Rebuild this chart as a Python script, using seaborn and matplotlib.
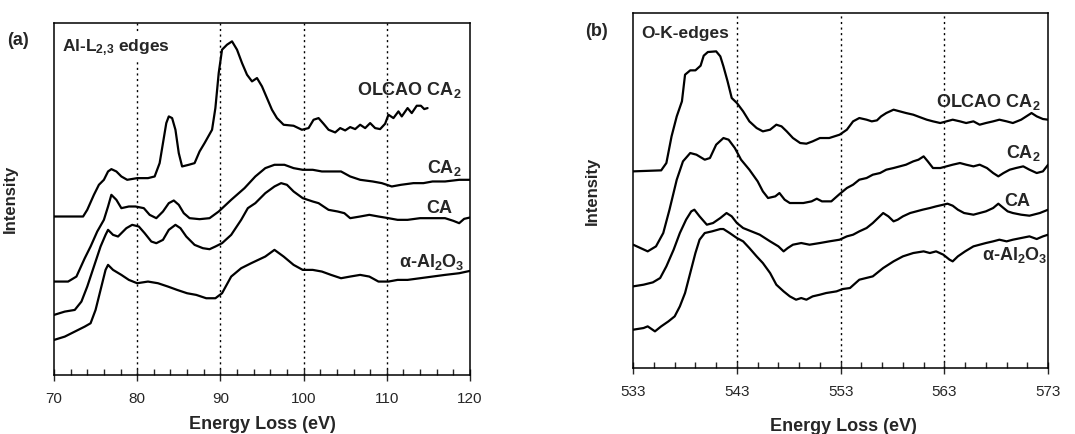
import numpy as np
import pandas as pd
import seaborn as sns
import matplotlib.pyplot as plt

# EELS spectra: Al-L2,3 and O-K edges (curves offset vertically, arbitrary units)

# ---- panel (a): Al-L2,3 edges ----
al_olcao_e = [70.0, 73.5, 74.0, 74.8, 75.4, 76.0, 76.5, 76.9, 77.5, 78.1, 78.8, 80.0, 81.3, 82.1,
              82.7, 83.1, 83.5, 83.8, 84.2, 84.6, 85.0, 85.4, 86.2, 86.9, 87.5, 88.1, 89.0, 89.4,
              89.8, 90.2, 90.8, 91.4, 92.0, 92.6, 93.2, 93.8, 94.4, 95.0, 95.6, 96.2, 96.8, 97.6,
              98.8, 99.8, 100.6, 101.2, 101.8, 102.4, 103.0, 103.8, 104.4, 105.0, 105.6, 106.2,
              106.8, 107.4, 108.0, 108.6, 109.2, 109.8, 110.2, 110.8, 111.4, 111.8, 112.5, 113.0,
              113.6, 114.1, 114.5, 114.9]
al_olcao_i = [475, 475, 495, 540, 570, 585, 610, 617, 610, 595, 585, 590, 590, 595,
              635, 695, 755, 775, 770, 735, 665, 625, 630, 635, 670, 695, 735, 800,
              905, 975, 990, 1000, 975, 935, 900, 880, 890, 865, 830, 795, 770, 750,
              747, 735, 740, 765, 770, 753, 735, 727, 740, 733, 743, 737,
              750, 740, 755, 740, 737, 753, 780, 770, 790, 775, 800, 785,
              807, 807, 797, 800]

al_ca2_e = [70.0, 71.7, 72.7, 73.7, 74.4, 75.2, 76.0, 76.5, 76.9, 77.5, 78.1, 79.0, 79.8, 80.8,
            81.5, 82.3, 83.1, 83.8, 84.4, 85.0, 85.6, 86.3, 87.5, 88.7, 89.8, 91.3, 92.9, 94.2,
            95.4, 96.5, 97.7, 98.8, 99.9, 101.1, 102.2, 103.3, 104.5, 105.6, 106.8, 108.3,
            109.4, 110.6, 111.7, 113.2, 114.4, 115.5, 117.0, 118.7, 120.0]
al_ca2_i = [280, 280, 295, 350, 385, 430, 465, 505, 540, 525, 500, 505, 505, 500,
            480, 470, 490, 515, 523, 510, 485, 470, 467, 470, 490, 525, 560, 595,
            620, 630, 630, 620, 615, 615, 610, 610, 610, 595, 585, 580,
            575, 565, 570, 575, 575, 580, 580, 585, 585]

al_ca_e = [70.0, 71.3, 72.5, 73.3, 74.0, 74.8, 75.6, 76.2, 76.5, 77.1, 77.7, 78.1, 78.7, 79.4,
           80.2, 80.9, 81.7, 82.3, 83.1, 83.8, 84.6, 85.2, 85.9, 86.9, 87.9, 88.7, 89.4, 90.2,
           91.3, 92.5, 93.3, 94.2, 95.4, 96.5, 97.3, 98.0, 98.8, 99.9, 101.1, 101.8, 103.0,
           104.1, 104.9, 105.6, 106.8, 107.9, 109.0, 110.2, 111.3, 112.5, 114.0, 115.5, 117.0,
           118.0, 118.7, 119.3, 120.0]
al_ca_i = [180, 190, 195, 220, 265, 325, 385, 420, 435, 420, 415, 425, 440, 450,
           445, 425, 400, 395, 405, 435, 450, 440, 415, 390, 380, 377, 385, 395,
           420, 465, 500, 515, 545, 565, 575, 570, 550, 530, 520, 515, 495,
           490, 485, 470, 475, 480, 475, 470, 465, 465, 470, 470, 470,
           462, 455, 468, 472]

al_alpha_e = [70.0, 71.3, 72.5, 73.7, 74.4, 75.0, 75.6, 76.2, 76.5, 77.1, 78.1, 79.0, 80.0, 81.3,
              82.5, 83.7, 84.8, 86.0, 87.1, 88.3, 89.4, 90.2, 91.3, 92.5, 93.7, 95.4, 96.5,
              97.6, 98.8, 99.9, 101.1, 102.2, 103.3, 104.5, 105.6, 106.8, 107.9, 109.0, 110.2,
              111.3, 112.5, 114.0, 115.5, 117.0, 118.7, 120.0]
al_alpha_i = [105, 115, 130, 145, 155, 195, 255, 315, 330, 315, 300, 285, 275, 280,
              275, 265, 255, 245, 240, 230, 230, 245, 295, 320, 335, 355, 375,
              355, 330, 315, 315, 310, 300, 290, 295, 300, 295, 280, 280,
              285, 285, 290, 295, 300, 305, 312]

# ---- panel (b): O-K edges ----
o_olcao_e = [533.0, 535.7, 536.2, 536.7, 537.2, 537.7, 538.0, 538.5, 539.0, 539.5, 539.8, 540.2,
             541.0, 541.4, 541.7, 542.1, 542.5, 543.0, 543.6, 544.2, 544.9, 545.5, 546.2, 546.8,
             547.3, 547.8, 548.4, 549.1, 549.7, 550.3, 551.0, 551.9, 552.9, 553.6, 554.2, 554.8,
             555.5, 556.0, 556.5, 556.9, 557.4, 558.1, 558.7, 559.3, 560.0, 560.6, 561.3, 561.9,
             562.6, 563.2, 563.8, 564.5, 565.1, 565.8, 566.4, 567.0, 567.7, 568.3, 569.0, 569.6,
             570.4, 570.9, 571.4, 571.9, 572.5, 573.0]
o_olcao_i = [590, 593, 615, 695, 755, 800, 880, 893, 893, 907, 937, 948,
             950, 935, 905, 860, 810, 795, 770, 740, 720, 710, 715, 730,
             725, 710, 690, 675, 673, 680, 690, 690, 700, 715, 740, 750,
             745, 740, 743, 755, 765, 775, 770, 765, 760, 753, 745, 740,
             735, 740, 745, 740, 735, 740, 730, 735, 740, 745, 740, 735,
             745, 755, 765, 755, 747, 745]

o_ca2_e = [533.0, 534.4, 535.2, 535.9, 536.5, 537.2, 537.8, 538.5, 539.1, 539.9, 540.4, 541.0,
           541.7, 542.2, 542.8, 543.4, 544.2, 545.0, 545.5, 546.0, 546.7, 547.1, 547.6, 548.1,
           549.4, 550.2, 550.7, 551.2, 552.1, 552.9, 553.6, 554.2, 554.8, 555.5, 556.1, 556.8,
           557.4, 558.1, 558.7, 559.3, 560.0, 560.5, 561.0, 561.4, 561.9, 562.6, 563.2, 563.8,
           564.5, 565.1, 565.8, 566.4, 567.1, 567.7, 568.2, 568.7, 569.3, 569.9, 570.6, 571.2,
           571.9, 572.5, 573.0]
o_ca2_i = [370, 350, 365, 405, 475, 565, 620, 645, 640, 625, 630, 670,
           690, 685, 660, 625, 595, 560, 530, 510, 515, 525, 505, 495,
           495, 500, 508, 500, 500, 522, 540, 550, 565, 570, 580, 585,
           595, 600, 605, 610, 620, 625, 635, 620, 600, 600, 605, 610,
           615, 610, 605, 610, 600, 585, 575, 585, 595, 600, 605, 595,
           585, 590, 610]

o_ca_e = [533.0, 534.0, 534.9, 535.6, 536.2, 536.9, 537.5, 538.1, 538.6, 538.9, 539.4, 540.1,
          540.7, 541.4, 542.0, 542.5, 543.0, 543.6, 544.4, 545.2, 546.2, 547.0, 547.5, 547.9,
          548.4, 549.2, 550.0, 551.0, 551.9, 552.9, 553.6, 554.2, 554.8, 555.5, 556.1, 556.6,
          557.1, 557.6, 558.1, 558.5, 559.0, 559.7, 560.3, 560.9, 561.6, 562.2, 562.9, 563.3,
          563.8, 564.3, 564.9, 565.8, 566.4, 567.0, 567.7, 568.2, 568.7, 569.1, 569.6, 570.4,
          571.2, 572.2, 573.0]
o_ca_i = [245, 250, 257, 270, 305, 355, 405, 445, 470, 475, 455, 430,
          435, 450, 465, 455, 435, 420, 410, 400, 380, 365, 350, 360,
          370, 375, 370, 375, 380, 385, 395, 400, 410, 420, 435, 450,
          465, 455, 440, 445, 455, 465, 470, 475, 480, 485, 490, 493,
          487, 475, 465, 460, 465, 470, 480, 493, 480, 470, 465, 460,
          457, 465, 475]

o_alpha_e = [533.0, 534.0, 534.4, 535.1, 535.7, 536.4, 537.0, 537.5, 538.0, 538.5, 539.0, 539.4,
             539.9, 540.6, 541.4, 541.7, 542.3, 543.0, 543.6, 544.2, 544.9, 545.5, 546.2, 546.8,
             547.5, 548.1, 548.7, 549.2, 549.7, 550.3, 551.0, 551.6, 552.6, 553.2, 553.9, 554.8,
             556.1, 557.1, 558.1, 559.0, 560.0, 561.0, 561.6, 562.2, 562.9, 563.5, 563.8, 564.3,
             565.0, 565.8, 566.4, 567.0, 567.7, 568.3, 569.0, 569.6, 570.4, 571.2, 571.9, 572.5,
             573.0]
o_alpha_i = [115, 120, 125, 110, 125, 140, 155, 185, 225, 285, 345, 385,
             405, 410, 417, 417, 405, 390, 380, 360, 335, 315, 285, 250,
             230, 215, 205, 210, 205, 215, 220, 225, 230, 237, 240, 265,
             275, 300, 320, 335, 345, 350, 345, 350, 340, 325, 320, 335,
             350, 365, 370, 375, 380, 385, 380, 385, 390, 395, 387, 395,
             400]

names = ['OLCAO CA$_2$', 'CA$_2$', 'CA', '\u03b1-Al$_2$O$_3$']

sns.set_style('white')
plt.rcParams['font.family'] = ['Liberation Sans', 'DejaVu Sans']
plt.rcParams['mathtext.fontset'] = 'custom'
plt.rcParams['mathtext.rm'] = 'Liberation Sans:bold'
plt.rcParams['mathtext.it'] = 'Liberation Sans:bold'
plt.rcParams['mathtext.bf'] = 'Liberation Sans:bold'

fig = plt.figure(figsize=(10.75, 4.34), dpi=100)
ax_a = fig.add_axes([0.0502, 0.136, 0.387, 0.811])
ax_b = fig.add_axes([0.589, 0.152, 0.386, 0.818])


def spectra_frame(pairs):
    frames = []
    for name, (e, i) in zip(names, pairs):
        frames.append(pd.DataFrame({'energy': e, 'intensity': i, 'spectrum': name}))
    return pd.concat(frames, ignore_index=True)


df_a = spectra_frame([(al_olcao_e, al_olcao_i), (al_ca2_e, al_ca2_i),
                      (al_ca_e, al_ca_i), (al_alpha_e, al_alpha_i)])
df_b = spectra_frame([(o_olcao_e, o_olcao_i), (o_ca2_e, o_ca2_i),
                      (o_ca_e, o_ca_i), (o_alpha_e, o_alpha_i)])

panels = [
    (ax_a, df_a, (70, 120), [70, 80, 90, 100, 110, 120], np.arange(72, 120, 2), 1055,
     '(a)', 'Al-L$_{2{,}3}$ edges', (-0.113, 0.949), 0.929,
     [(0.981, 0.81), (0.981, 0.588), (0.957, 0.474), (0.988, 0.321)], -0.087, -0.117, 0.5),
    (ax_b, df_b, (533, 573), [533, 543, 553, 563, 573], np.arange(535, 573, 2), 1065,
     '(b)', 'O-K-edges', (-0.116, 0.949), 0.942,
     [(0.981, 0.749), (0.981, 0.606), (0.957, 0.47), (0.998, 0.318)], -0.08, -0.141, 0.506),
]

for (ax, df, xlim, majors, minors, ytop, tag, title, tag_pos, title_y,
     label_pos, ylab_x, xlab_y, xlab_x) in panels:
    sns.lineplot(data=df, x='energy', y='intensity', units='spectrum', estimator=None,
                 color='black', linewidth=1.6, ax=ax, legend=False)
    ax.set_xlim(*xlim)
    ax.set_ylim(0, ytop)
    ax.set_xticks(majors)
    ax.set_xticks(minors, minor=True)
    ax.set_yticks([])
    ax.tick_params(axis='x', which='major', direction='inout', length=8, width=1,
                   labelsize=11, pad=8, bottom=True)
    ax.tick_params(axis='x', which='minor', direction='in', length=4, width=1, bottom=True)
    for x in majors[1:-1]:
        ax.axvline(x, color='black', linestyle=(0, (1.5, 2.5)), linewidth=1, zorder=0)
    for s in ax.spines.values():
        s.set_color('black')
        s.set_linewidth(1.1)
    ax.set_xlabel('Energy Loss (eV)', fontsize=13, fontweight='bold')
    ax.set_ylabel('Intensity', fontsize=12, fontweight='bold')
    ax.xaxis.set_label_coords(xlab_x, xlab_y)
    ax.yaxis.set_label_coords(ylab_x, 0.5)
    ax.text(tag_pos[0], tag_pos[1], tag, transform=ax.transAxes, fontsize=13,
            fontweight='bold', ha='left', va='center')
    ax.text(0.02, title_y, title, transform=ax.transAxes, fontsize=12.5, fontweight='bold',
            ha='left', va='center',
            bbox=dict(facecolor='white', edgecolor='none', pad=3))
    for name, (lx, ly) in zip(names, label_pos):
        ax.text(lx, ly, name, transform=ax.transAxes, fontsize=13, fontweight='bold',
                ha='right', va='center')

fig.savefig('out.png', dpi=100)
